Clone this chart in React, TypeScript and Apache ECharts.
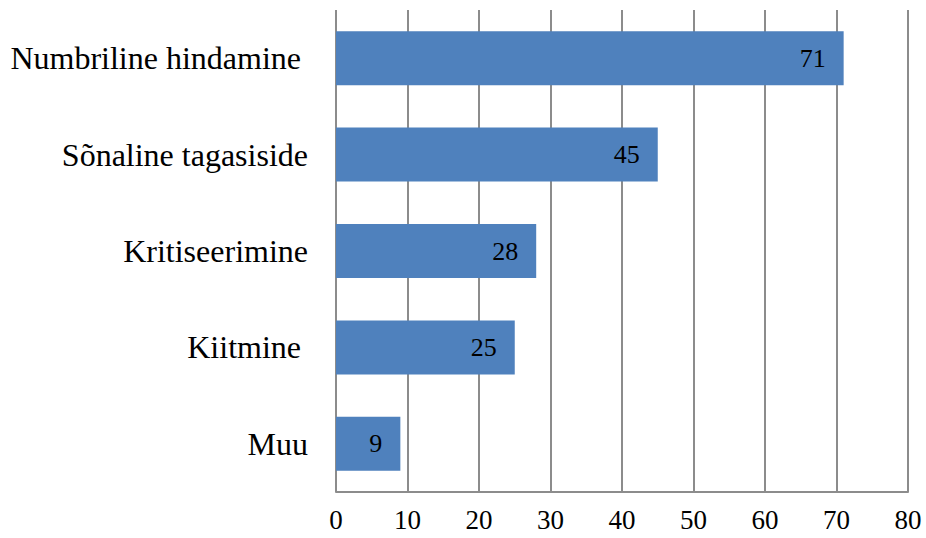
import React, { useEffect, useRef } from "react";
import * as echarts from "echarts";

const categories = ["Numbriline hindamine", "Sõnaline tagasiside", "Kritiseerimine", "Kiitmine", "Muu"];
const values = [71, 45, 28, 25, 9];
const padded = ["Numbriline hindamine", "Kiitmine"];

export default function App() {
  const ref = useRef<HTMLDivElement>(null);
  useEffect(() => {
    document.body.style.margin = "0";
    if (!ref.current) return;
    const chart = echarts.init(ref.current, null, { renderer: "svg" });
    chart.setOption({
      animation: false,
      grid: { left: 336, right: 18, top: 10, bottom: 46, containLabel: false },
      xAxis: {
        type: "value",
        min: 0,
        max: 80,
        interval: 10,
        axisLine: { show: true, lineStyle: { color: "#8c8c8c", width: 2 } },
        axisTick: { show: false },
        splitLine: { show: true, lineStyle: { color: "#8c8c8c", width: 2 } },
        axisLabel: {
          color: "#000",
          fontFamily: "Liberation Serif",
          fontSize: 27,
          margin: 14,
        },
      },
      yAxis: {
        type: "category",
        inverse: true,
        data: categories,
        axisLine: { show: false },
        axisTick: { show: false },
        splitLine: { show: false },
        axisLabel: {
          color: "#000",
          fontFamily: "Liberation Serif",
          fontSize: 32,
          margin: 28,
          formatter: (v: string) => (padded.includes(v) ? `{p|${v}}` : v),
          rich: {
            p: {
              color: "#000",
              fontFamily: "Liberation Serif",
              fontSize: 32,
              padding: [0, 7, 0, 0],
            },
          },
        },
      },
      series: [
        {
          type: "bar",
          data: values,
          barWidth: 54,
          itemStyle: { color: "#4F81BD" },
          label: {
            show: true,
            position: "insideRight",
            distance: 18,
            color: "#000",
            fontFamily: "Liberation Serif",
            fontSize: 26,
          },
        },
      ],
    });
    return () => chart.dispose();
  }, []);
  return <div ref={ref} style={{ width: 926, height: 538 }} />;
}
